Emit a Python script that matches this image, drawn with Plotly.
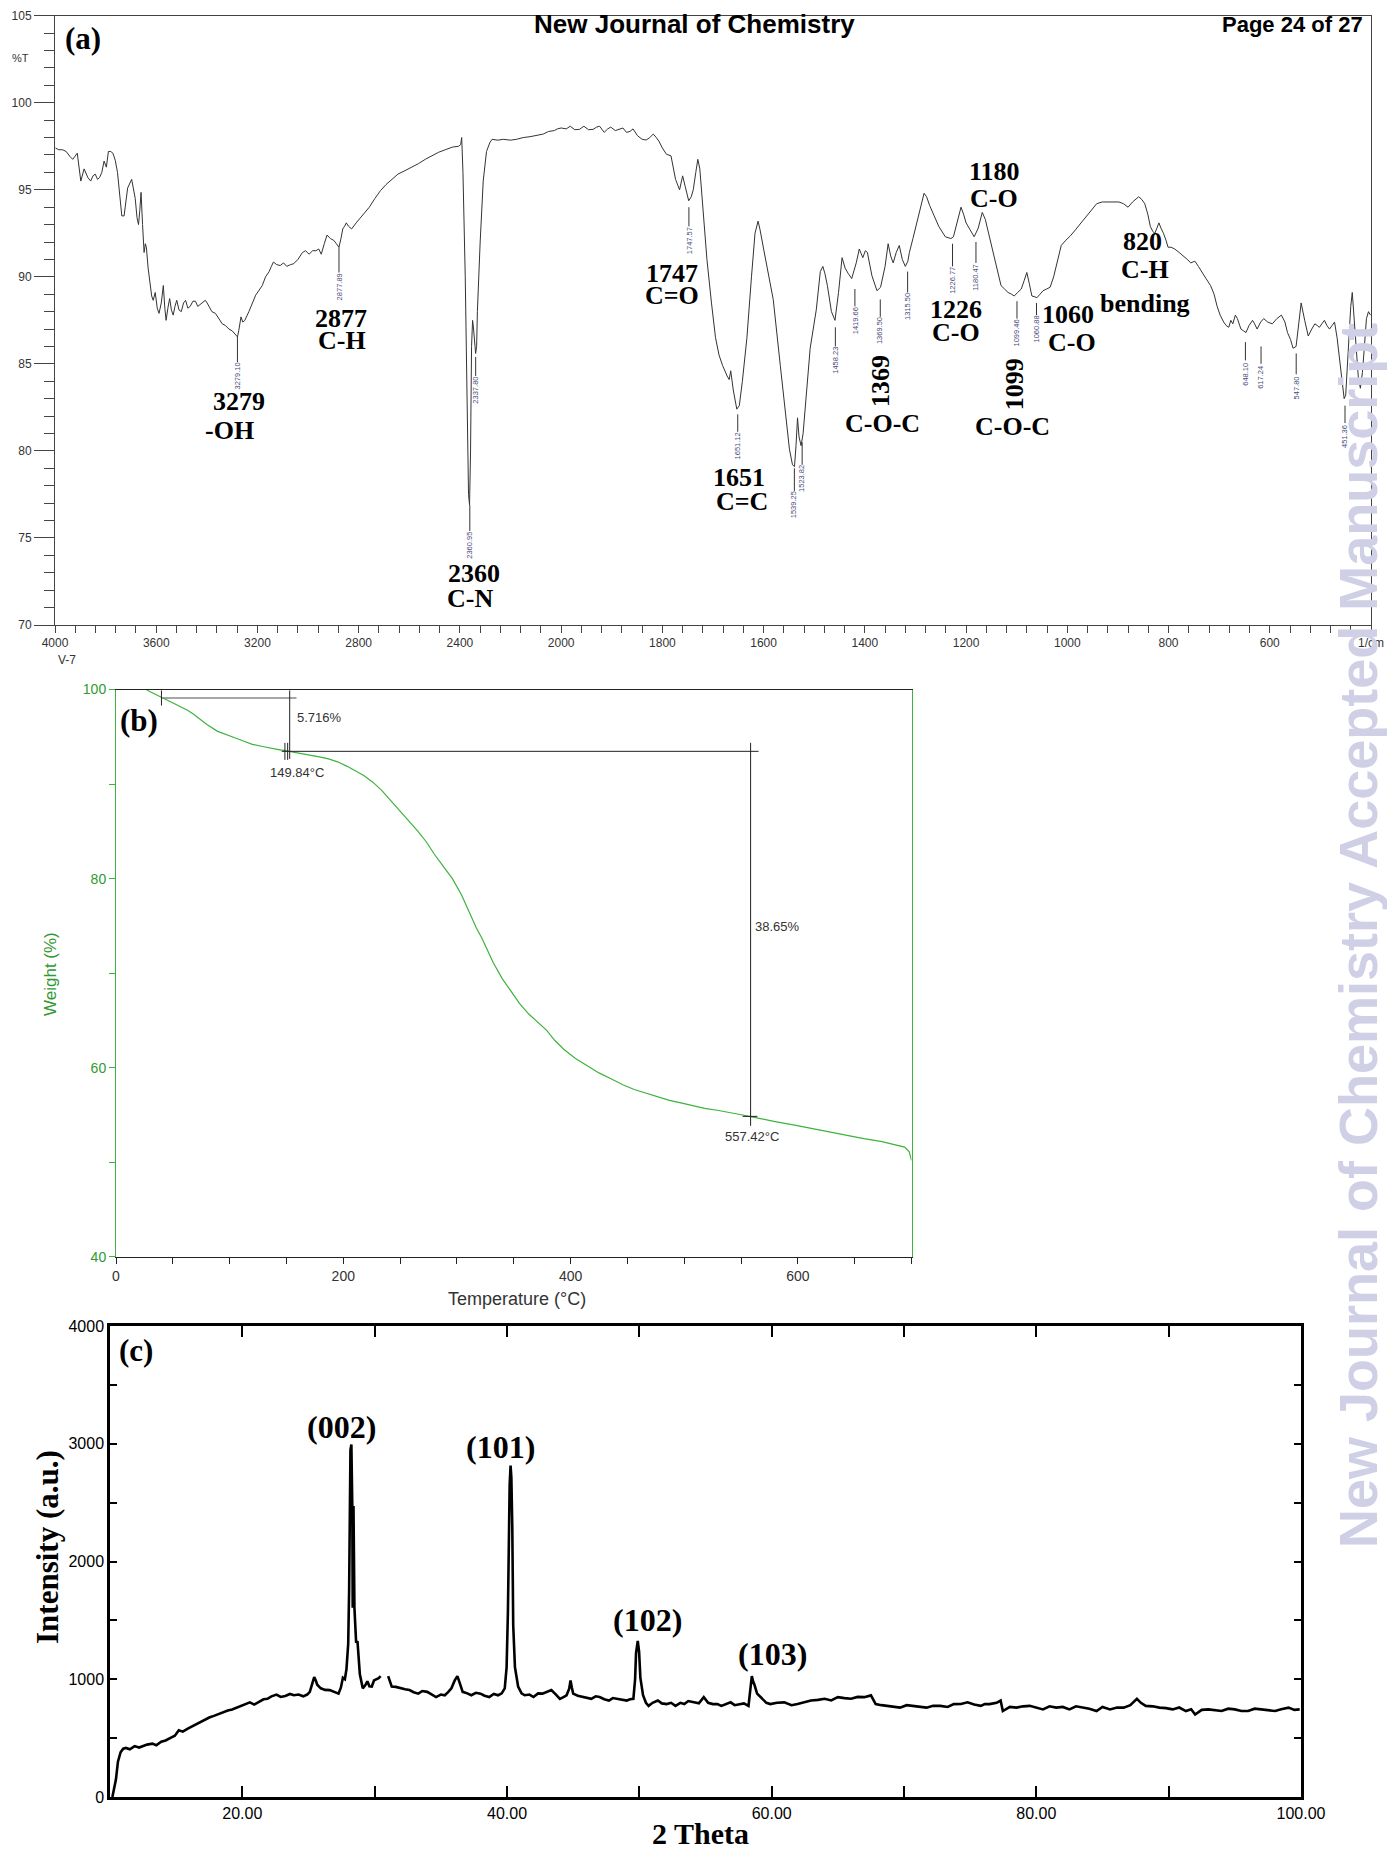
import numpy as np
import plotly.graph_objects as go

W, H = 1395, 1858
OFF = 8                      # default body margin of the html page
FW, FH = W - 2 * OFF, H - 2 * OFF

# ---------------- (a) FT-IR data ----------------
ir_wn = [3998, 3985, 3970, 3956, 3940, 3930, 3912, 3898, 3885, 3870, 3859, 3850, 3841, 3832, 3824, 3815,
         3806, 3797, 3789, 3780, 3771, 3762, 3753, 3744, 3736, 3727, 3720, 3713, 3697, 3690, 3683, 3676,
         3670, 3665, 3660, 3654, 3648, 3643, 3639, 3632, 3625, 3618, 3612, 3604, 3596, 3589, 3580, 3572,
         3566, 3561, 3554, 3547, 3540, 3533, 3526, 3519, 3510, 3501, 3492, 3484, 3475, 3466, 3455, 3445,
         3436, 3427, 3416, 3406, 3399, 3392, 3380, 3366, 3352, 3339, 3326, 3313, 3300, 3290, 3283, 3279,
         3274, 3265, 3258, 3250, 3234, 3220, 3207, 3195, 3181, 3168, 3154, 3145, 3137, 3124, 3110, 3097,
         3084, 3070, 3057, 3040, 3022, 3010, 2996, 2982, 2969, 2958, 2948, 2936, 2925, 2912, 2899, 2888,
         2878, 2870, 2863, 2856, 2849, 2840, 2828, 2810, 2793, 2775, 2758, 2736, 2714, 2692, 2670, 2645,
         2617, 2590, 2564, 2537, 2511, 2485, 2458, 2430, 2405, 2397, 2393, 2388, 2379, 2372, 2366, 2362,
         2358, 2354, 2350, 2346, 2343, 2338, 2334, 2331, 2320, 2308, 2295, 2282, 2273, 2250, 2229, 2200,
         2176, 2150, 2123, 2100, 2071, 2050, 2027, 2015, 2000, 1990, 1982, 1973, 1964, 1955, 1946, 1937,
         1930, 1924, 1915, 1908, 1902, 1893, 1885, 1878, 1871, 1864, 1858, 1849, 1840, 1832, 1825, 1818,
         1812, 1807, 1800, 1792, 1783, 1778, 1774, 1766, 1760, 1755, 1748, 1743, 1739, 1734, 1730, 1726,
         1720, 1712, 1703, 1695, 1688, 1681, 1672, 1668, 1665, 1660, 1653, 1648, 1642, 1633, 1624, 1617,
         1611, 1607, 1600, 1593, 1581, 1567, 1558, 1549, 1543, 1539, 1536, 1533, 1530, 1526, 1522, 1518,
         1508, 1496, 1488, 1483, 1479, 1474, 1466, 1459, 1452, 1445, 1439, 1433, 1426, 1417, 1411, 1404,
         1399, 1395, 1386, 1376, 1369, 1360, 1354, 1349, 1344, 1338, 1332, 1326, 1320, 1315, 1312, 1305,
         1299, 1291, 1283, 1278, 1272, 1263, 1254, 1241, 1230, 1225, 1220, 1215, 1210, 1205, 1200, 1192,
         1184, 1176, 1168, 1162, 1157, 1150, 1145, 1138, 1131, 1124, 1117, 1110, 1105, 1098, 1091, 1085,
         1080, 1075, 1070, 1064, 1060, 1054, 1048, 1041, 1034, 1027, 1021, 1012, 1003, 994, 984, 973,
         962, 951, 942, 931, 920, 909, 898, 889, 880, 871, 865, 859, 853, 847, 841, 836,
         831, 827, 823, 819, 815, 810, 805, 801, 795, 788, 779, 770, 763, 756, 748, 741,
         734, 726, 717, 710, 704, 698, 691, 686, 681, 677, 673, 668, 664, 660, 657, 652,
         647, 641, 634, 630, 625, 618, 612, 604, 595, 586, 577, 570, 565, 559, 554, 548,
         544, 538, 531, 524, 517, 511, 506, 502, 497, 492, 487, 482, 477, 472, 467, 462,
         457, 453, 450, 447, 443, 440, 437, 433, 429, 425, 421, 417, 413, 409, 405, 401]
ir_t = [97.4, 97.3, 97.3, 97.2, 96.9, 96.75, 97.1, 95.5, 96.2, 95.7, 95.5, 95.8, 95.9, 95.6, 95.7, 96.0,
        96.65, 96.3, 97.2, 97.2, 97.1, 96.7, 96.0, 94.8, 93.5, 93.5, 94.2, 95.1, 95.6, 95.0, 94.5, 93.4,
        93.0, 93.8, 94.85, 93.0, 91.4, 91.9, 91.7, 90.5, 89.6, 88.9, 88.65, 89.1, 88.2, 87.9, 88.5, 89.5,
        88.2, 87.5, 88.2, 88.75, 88.1, 87.8, 88.3, 88.65, 88.1, 88.0, 88.5, 88.65, 88.2, 88.3, 88.6, 88.6,
        88.3, 88.4, 88.5, 88.65, 88.5, 88.3, 88.0, 87.9, 87.6, 87.3, 87.2, 87.0, 86.9, 86.7, 86.6, 86.55,
        86.9, 87.7, 87.4, 87.5, 88.0, 88.5, 88.95, 89.2, 89.5, 90.0, 90.3, 90.6, 90.85, 90.7, 90.65, 90.8,
        90.6, 90.7, 90.75, 91.0, 91.4, 91.5, 91.3, 91.5, 91.5, 91.6, 91.3, 91.9, 92.4, 92.2, 92.1, 91.9,
        91.7, 92.2, 92.75, 92.9, 93.1, 92.9, 92.75, 93.1, 93.4, 93.7, 94.0, 94.5, 94.95, 95.3, 95.6, 95.9,
        96.1, 96.3, 96.5, 96.75, 96.95, 97.15, 97.3, 97.45, 97.5, 97.6, 98.0, 96.0, 90.0, 82.0, 77.5, 76.9,
        80.0, 86.0, 87.5, 87.0, 86.5, 85.6, 86.0, 88.0, 92.0, 95.5, 97.2, 97.7, 97.9, 97.85, 97.9, 97.85,
        97.9, 98.0, 98.05, 98.1, 98.2, 98.35, 98.4, 98.5, 98.55, 98.5, 98.65, 98.45, 98.47, 98.65, 98.45, 98.47,
        98.6, 98.65, 98.3, 98.5, 98.6, 98.4, 98.47, 98.55, 98.3, 98.35, 98.5, 98.1, 97.9, 97.86, 98.0, 98.2,
        98.0, 97.8, 97.4, 97.04, 96.95, 96.2, 95.6, 95.0, 95.8, 95.2, 94.37, 94.6, 95.0, 96.0, 96.75, 96.2,
        94.0, 91.0, 88.5, 86.5, 85.5, 84.9, 84.3, 84.1, 84.6, 83.5, 82.4, 82.6, 84.0, 86.5, 90.0, 92.5,
        93.2, 92.7, 91.6, 90.6, 88.7, 84.9, 82.4, 80.1, 79.2, 79.1, 80.3, 81.9, 80.8, 80.3, 81.0, 82.4,
        85.9, 88.1, 90.3, 90.6, 90.2, 89.5, 88.0, 87.5, 89.1, 91.1, 90.5, 90.2, 89.9, 90.8, 91.6, 91.1,
        91.5, 91.4, 90.06, 89.2, 89.4, 90.6, 91.9, 91.2, 90.8, 91.4, 91.8, 91.0, 90.6, 90.9, 91.4, 92.2,
        92.9, 93.9, 94.8, 94.6, 94.1, 93.5, 92.9, 92.3, 92.2, 92.3, 92.9, 93.5, 94.0, 93.6, 93.1, 92.7,
        92.3, 92.8, 93.7, 93.3, 92.7, 91.8, 91.2, 90.3, 89.5, 89.3, 89.1, 89.0, 88.9, 89.1, 89.3, 89.8,
        90.25, 89.6, 88.9, 88.85, 88.8, 89.0, 89.2, 89.3, 89.4, 90.0, 90.8, 91.8, 92.1, 92.35, 92.7, 93.1,
        93.5, 93.9, 94.2, 94.3, 94.3, 94.3, 94.3, 94.2, 94.0, 94.3, 94.45, 94.6, 94.45, 94.2, 93.6, 92.9,
        92.6, 92.5, 92.8, 93.1, 92.8, 92.5, 92.1, 91.7, 91.7, 91.6, 91.4, 91.2, 91.0, 90.8, 90.9, 90.6,
        90.25, 89.9, 89.5, 89.0, 88.3, 87.8, 87.4, 87.2, 87.1, 87.5, 87.3, 87.8, 87.6, 87.3, 87.0, 86.9,
        86.8, 87.2, 87.5, 87.3, 87.0, 87.4, 87.6, 87.4, 87.3, 87.6, 87.8, 87.4, 86.8, 86.4, 85.9, 86.0,
        87.0, 88.5, 87.5, 86.6, 87.0, 87.3, 87.2, 87.1, 87.3, 87.5, 87.2, 87.0, 87.2, 87.4, 86.5, 85.3,
        84.0, 83.0, 83.2, 84.7, 87.0, 88.3, 89.1, 87.6, 85.6, 84.2, 83.6, 84.5, 86.0, 87.6, 88.0, 87.8]

peak_wn = [3279.10, 2877.89, 2360.95, 2337.80, 1747.57, 1651.12, 1539.25, 1523.82, 1458.23, 1419.66,
           1369.50, 1315.50, 1226.77, 1180.47, 1099.46, 1060.88, 648.10, 617.24, 547.80, 451.36]
peak_line_top = [86.6, 91.7, 76.9, 85.4, 94.0, 82.1, 79.0, 80.5, 87.1, 89.3,
                 88.7, 90.3, 91.9, 92.0, 88.6, 88.5, 86.25, 86.0, 85.6, 82.6]
peak_line_bot = [85.1, 90.25, 75.4, 84.3, 92.9, 81.1, 77.7, 79.2, 86.0, 88.3,
                 87.7, 89.1, 90.6, 90.8, 87.6, 87.8, 85.2, 85.0, 84.4, 81.6]
ir_tick_labels = ["4000", "3600", "3200", "2800", "2400", "2000", "1800", "1600", "1400",
                  "1200", "1000", "800", "600", "1/cm"]

# ---------------- (b) TGA data ----------------
tga_temp = [27, 33, 40, 47, 53, 58, 63, 68, 73, 80, 89, 97, 104.5, 112, 120, 128, 135.5, 143, 150, 160,
            172, 180, 187, 195, 203, 210, 218, 226, 234, 241, 249, 257, 265, 273, 280, 288, 296, 304, 311,
            317, 322, 327, 332, 340, 348, 355, 363, 371, 379, 386, 394, 404, 415, 425, 436, 446, 456, 467,
            477, 487, 498, 508, 518, 529, 539, 549, 557.4, 569, 580, 596, 611, 627, 642, 658, 673, 684,
            694, 698, 700]
tga_wt = [99.95, 99.6, 99.2, 98.8, 98.44, 98.1, 97.8, 97.4, 96.9, 96.3, 95.6, 95.2, 94.9, 94.55, 94.2,
          94.0, 93.8, 93.65, 93.5, 93.3, 93.06, 92.85, 92.66, 92.35, 91.9, 91.45, 90.9, 90.2, 89.3, 88.35,
          87.3, 86.2, 85.1, 83.9, 82.6, 81.3, 80.0, 78.3, 76.4, 74.8, 73.7, 72.4, 71.1, 69.4, 67.96, 66.8,
          65.7, 64.8, 63.95, 62.9, 61.95, 61.0, 60.2, 59.45, 58.8, 58.2, 57.7, 57.3, 56.9, 56.55, 56.25,
          55.95, 55.7, 55.5, 55.3, 55.05, 54.85, 54.55, 54.3, 53.95, 53.6, 53.2, 52.8, 52.5, 52.2, 51.9,
          51.6, 51.1, 50.2]
step1_t0, step1_t1, step2_t1 = 40.0, 149.84, 557.42
step1_w0, step1_w1, step2_w1 = 99.1, 93.46, 54.85
step1_loss, step2_loss = "5.716%", "38.65%"

# ---------------- (c) XRD data ----------------
xrd_2theta = [10.18, 10.3, 10.45, 10.6, 10.8, 11.0, 11.2, 11.5, 11.86, 12.2, 12.5, 12.8, 13.2, 13.5, 13.87,
              14.2, 14.54, 14.9, 15.2, 15.5, 15.88, 16.2, 16.55, 16.9, 17.2, 17.5, 17.9, 18.2, 18.56, 18.9,
              19.23, 19.6, 19.9, 20.2, 20.57, 20.9, 21.24, 21.6, 21.9, 22.2, 22.58, 22.9, 23.25, 23.6, 23.9,
              24.25, 24.6, 24.9, 25.1, 25.3, 25.43, 25.55, 25.66, 25.93, 26.25, 26.6, 26.95, 27.27, 27.45,
              27.6, 27.75, 27.87, 28.0, 28.07, 28.17, 28.24, 28.31, 28.34, 28.4, 28.47, 28.6, 28.7, 28.88,
              29.1, 29.3, 29.45, 29.6, 29.78, 29.95, 30.1, 30.3, 30.45, None, 31.02, 31.15, 31.29, 31.6,
              31.96, 32.3, 32.63, 32.95, 33.3, 33.6, 33.97, 34.3, 34.64, 35.0, 35.3, 35.55, 35.8, 36.05,
              36.25, 36.45, 36.65, 37.0, 37.3, 37.65, 38.0, 38.3, 38.66, 39.0, 39.33, 39.6, 39.83, 39.97,
              40.07, 40.2, 40.27, 40.33, 40.4, 40.47, 40.6, 40.84, 41.1, 41.34, 41.7, 42.0, 42.35, 42.68,
              43.0, 43.35, 43.7, 44.0, 44.3, 44.5, 44.7, 44.8, 44.9, 45.0, 45.35, 45.7, 46.0, 46.37, 46.7,
              47.0, 47.35, 47.7, 48.0, 48.37, 48.7, 49.05, 49.3, 49.55, 49.68, 49.75, 49.88, 49.98, 50.08,
              50.28, 50.5, 50.7, 51.0, 51.4, 51.7, 52.06, 52.4, 52.73, 53.1, 53.4, 53.7, 54.07, 54.5, 54.87,
              55.2, 55.55, 55.9, 56.2, 56.55, 56.9, 57.2, 57.57, 57.9, 58.25, 58.4, 58.5, 58.6, 58.7, 58.9,
              59.26, 59.6, 59.9, 60.4, 60.95, 61.5, 61.96, 62.5, 62.97, 63.5, 64.0, 64.5, 65.0, 65.5, 66.0,
              66.5, 67.0, 67.5, 67.86, 68.3, 68.7, 69.2, 69.7, 70.2, 70.7, 71.2, 71.7, 72.2, 72.75, 73.3,
              73.76, 74.3, 74.8, 75.3, 75.8, 76.1, 76.46, 77.0, 77.3, 77.47, 78.0, 78.5, 79.0, 79.5, 80.0,
              80.5, 81.0, 81.5, 82.0, 82.5, 83.0, 83.5, 84.0, 84.55, 85.0, 85.57, 86.1, 86.6, 87.1, 87.6,
              87.9, 88.27, 88.8, 89.3, 89.8, 90.3, 90.8, 91.3, 91.7, 92.0, 92.5, 93.0, 93.5, 94.0, 94.5,
              95.0, 95.5, 96.0, 96.5, 97.0, 97.5, 98.05, 98.5, 99.06, 99.5, 99.9]
xrd_int = [0, 80, 150, 300, 380, 410, 417, 405, 432, 420, 432, 445, 453, 440, 470,
           480, 500, 520, 566, 555, 581, 600, 625, 640, 661, 675, 691, 705, 721, 735,
           744, 760, 774, 790, 804, 785, 810, 830, 834, 855, 870, 850, 858, 875, 864,
           870, 855, 870, 893, 980, 1018, 990, 953, 923, 910, 908, 890, 878, 930,
           1013, 1000, 1087, 1300, 1757, 2948, 2993, 2472, 1608, 2472, 1608, 1310, 1325, 1042,
           923, 950, 983, 940, 938, 990, 998, 1010, 1027, None, 1027, 980, 938, 935,
           923, 915, 908, 890, 878, 900, 893, 870, 849, 870, 864, 890, 923, 990,
           1027, 960, 893, 880, 864, 885, 878, 860, 849, 875, 864, 880, 923, 1100,
           1578, 2650, 2814, 2710, 2293, 1459, 1102, 938, 880, 864, 870, 849, 880, 878,
           895, 908, 870, 834, 850, 864, 920, 989, 930, 878, 860, 849, 845, 834, 855,
           849, 830, 819, 840, 834, 825, 819, 830, 834, 1000, 1221, 1325, 1236, 1012,
           864, 800, 774, 800, 819, 795, 789, 800, 774, 800, 789, 815, 804, 795, 848,
           800, 789, 790, 774, 790, 804, 780, 789, 795, 774, 923, 1027, 980, 953, 878,
           834, 800, 789, 800, 804, 780, 789, 805, 819, 825, 834, 820, 848, 840, 834,
           850, 848, 863, 789, 780, 774, 770, 759, 780, 774, 770, 759, 775, 774, 765,
           789, 790, 804, 785, 774, 790, 789, 800, 819, 730, 765, 759, 770, 774, 760,
           744, 770, 759, 765, 744, 770, 759, 750, 730, 765, 744, 760, 759, 780, 834,
           800, 774, 770, 759, 755, 744, 760, 730, 745, 700, 740, 744, 735, 730, 750,
           744, 730, 730, 750, 744, 735, 730, 745, 759, 740, 744]
xrd_hkl = ["(002)", "(101)", "(102)", "(103)"]
xrd_hkl_pos = [28.2, 40.3, 49.9, 58.5]


# ---------------- helpers ----------------
def wn_to_u(w):
    w = np.asarray(w, dtype=float)
    return np.where(w >= 2000, (4000 - w) / 400.0, 5 + (2000 - w) / 200.0)


def px(x):
    return (x - OFF) / FW


def py(y):
    return 1 - (y - OFF) / FH


SERIF = "Liberation Serif, Times New Roman, serif"
SANS = "Liberation Sans, Arial, sans-serif"
GREEN = "#2f9a2f"
GREEN_LINE = "#3db33d"
DARK = "#333333"

fig = go.Figure()

# ---- (a) IR spectrum
fig.add_trace(go.Scatter(x=wn_to_u(ir_wn), y=ir_t, mode="lines",
                         line=dict(color=DARK, width=1), xaxis="x", yaxis="y",
                         hoverinfo="skip", showlegend=False))
lx, ly = [], []
for w, t0, t1 in zip(peak_wn, peak_line_top, peak_line_bot):
    u = float(wn_to_u(w))
    lx += [u, u, None]
    ly += [t0, t1, None]
fig.add_trace(go.Scatter(x=lx, y=ly, mode="lines", line=dict(color=DARK, width=1),
                         xaxis="x", yaxis="y", hoverinfo="skip", showlegend=False))

# ---- (b) TGA
fig.add_trace(go.Scatter(x=tga_temp, y=tga_wt, mode="lines", line=dict(color=GREEN_LINE, width=1.2),
                         xaxis="x2", yaxis="y2", hoverinfo="skip", showlegend=False))

# ---- (c) XRD
fig.add_trace(go.Scatter(x=xrd_2theta, y=xrd_int, mode="lines", line=dict(color="black", width=2.6),
                         xaxis="x3", yaxis="y3", hoverinfo="skip", showlegend=False,
                         connectgaps=False))

ann = []


def txt(text, x, y, xref="paper", yref="paper", size=12, color="black", family=SANS,
        weight="normal", angle=0, xanchor="center", yanchor="middle"):
    ann.append(dict(text=text, x=x, y=y, xref=xref, yref=yref, showarrow=False,
                    font=dict(size=size, color=color, family=family, weight=weight),
                    textangle=angle, xanchor=xanchor, yanchor=yanchor))


# watermark (first so other texts are drawn over it)
txt("New Journal of Chemistry Accepted Manuscript", px(1358), py(936), size=54,
    color="#cfcfe6", family=SANS, weight="bold", angle=-90)

# header
txt("New Journal of Chemistry", px(694), py(24), size=26, family=SANS, weight="bold")
txt("Page 24 of 27", px(1292), py(24), size=22, family=SANS, weight="bold")

# (a) annotations
txt("(a)", px(83), py(38), size=31, family=SERIF, weight="bold")
txt("%T", px(20), py(58), size=11, color=DARK)
txt("V-7", px(67), py(660), size=12, color=DARK)
for w, t1 in zip(peak_wn, peak_line_bot):
    txt(f"{w:.2f}", float(wn_to_u(w)), t1 - 0.8, "x", "y", size=7.5, color="#4a4a7a", angle=-90)

ir_big = [("3279", 1.818, 82.82, 0), ("-OH", 1.726, 81.19, 0), ("2877", 2.823, 87.6, 0),
          ("C-H", 2.835, 86.33, 0), ("2360", 4.142, 72.98, 0), ("C-N", 4.098, 71.55, 0),
          ("1747", 6.095, 90.2, 0), ("C=O", 6.095, 88.95, 0), ("1651", 6.752, 78.48, 0),
          ("C=C", 6.785, 77.12, 0), ("1369", 8.154, 84.04, -90), ("C-O-C", 8.176, 81.6, 0),
          ("1226", 8.902, 88.1, 0), ("C-O", 8.902, 86.78, 0), ("1180", 9.276, 96.05, 0),
          ("C-O", 9.276, 94.5, 0), ("1099", 9.487, 83.85, -90), ("C-O-C", 9.462, 81.39, 0),
          ("1060", 10.01, 87.86, 0), ("C-O", 10.05, 86.2, 0), ("820", 10.74, 92.05, 0),
          ("C-H", 10.77, 90.42, 0), ("bending", 10.77, 88.45, 0)]
for t, ux, ty, ang in ir_big:
    txt(t, ux, ty, "x", "y", size=26, family=SERIF, weight="bold", angle=ang)

# (b) annotations
txt("(b)", px(139), py(721), size=31, family=SERIF, weight="bold")
txt(step1_loss, step1_t1 + 8, 97.0, "x2", "y2", size=13, color=DARK, xanchor="left")
txt(f"{step1_t1:.2f}°C", step1_t1 + 9, 91.2, "x2", "y2", size=13, color=DARK)
txt(step2_loss, step2_t1 + 3, 74.95, "x2", "y2", size=13, color=DARK, xanchor="left")
txt(f"{step2_t1:.2f}°C", step2_t1 + 2, 52.7, "x2", "y2", size=13, color=DARK)
txt("Weight (%)", px(50), py(974), size=17, color=GREEN, angle=-90)
txt("Temperature (°C)", px(517), py(1299), size=18, color=DARK)

# (c) annotations
txt("(c)", 11.96, 3790, "x3", "y3", size=31, family=SERIF, weight="bold")
hkl_y = [3144, 2974, 1504, 1211]
hkl_dx = [-0.7, -0.8, 0.75, 1.55]
for lab, xp, yy, dx in zip(xrd_hkl, xrd_hkl_pos, hkl_y, hkl_dx):
    txt(lab, xp + dx, yy, "x3", "y3", size=32, family=SERIF, weight="bold")
txt("Intensity (a.u.)", px(47), py(1547), size=31, family=SERIF, weight="bold", angle=-90)
txt("2 Theta", px(700), py(1833), size=30, family=SERIF, weight="bold")

# TGA step markers (shapes)
shapes = []


def seg(x0, y0, x1, y1, color="#222", width=1):
    shapes.append(dict(type="line", x0=x0, y0=y0, x1=x1, y1=y1, xref="x2", yref="y2",
                       line=dict(color=color, width=width)))


seg(step1_t0, step1_w0, step1_t1 + 9, step1_w0, color="#888", width=1.6)
seg(step1_t0, step1_w0 + 0.8, step1_t0, step1_w0 - 0.8)
seg(step1_t1 + 3, step1_w0 + 0.8, step1_t1 + 3, step1_w1 - 0.8)
seg(step1_t1 - 1.2, step1_w1 + 0.9, step1_t1 - 1.2, step1_w1 - 0.9)
seg(step1_t1 + 1.2, step1_w1 + 0.9, step1_t1 + 1.2, step1_w1 - 0.9)
seg(step1_t1 - 4, step1_w1, step2_t1 + 8, step1_w1)
seg(step2_t1 + 1, step1_w1 + 0.9, step2_t1 + 1, step2_w1 - 1.0)
seg(step2_t1 - 6, step2_w1, step2_t1 + 7, step2_w1)

axis_a = dict(showgrid=False, zeroline=False, showline=True, linecolor="#444", linewidth=1,
              mirror=True, ticks="outside", tickcolor="#444",
              tickfont=dict(size=12, color=DARK, family=SANS))

fig.update_layout(
    width=FW, height=FH, margin=dict(l=0, r=0, t=0, b=0),
    paper_bgcolor="white", plot_bgcolor="white", template="none",
    showlegend=False, annotations=ann, shapes=shapes,
    xaxis=dict(axis_a, domain=[px(55), px(1371)], anchor="y", range=[0, 13],
               tickmode="array", tickvals=list(range(14)), ticktext=ir_tick_labels, ticklen=7,
               minor=dict(tickmode="linear", tick0=0, dtick=0.2, ticks="outside", ticklen=7,
                          tickcolor="#444")),
    yaxis=dict(axis_a, domain=[py(625), py(15.7)], anchor="x", range=[70, 105],
               tickmode="linear", tick0=70, dtick=5, ticklen=20,
               minor=dict(tickmode="linear", tick0=70, dtick=1, ticks="outside", ticklen=10,
                          tickcolor="#444")),
    xaxis2=dict(showgrid=False, zeroline=False, showline=True, linecolor="#222", linewidth=1,
                mirror=True, ticks="outside", ticklen=6, tickcolor="#222",
                domain=[px(116), px(911.5)], anchor="y2", range=[0, 700],
                tickmode="linear", tick0=0, dtick=200,
                tickfont=dict(size=14, color=DARK, family=SANS),
                minor=dict(tickmode="linear", tick0=0, dtick=50, ticks="outside", ticklen=6,
                           tickcolor="#222")),
    yaxis2=dict(showgrid=False, zeroline=False, showline=True, linecolor=GREEN_LINE, linewidth=1,
                mirror=True, ticks="outside", ticklen=6, tickcolor=GREEN_LINE,
                domain=[py(1256.8), py(689.5)], anchor="x2", range=[40, 100],
                tickmode="linear", tick0=40, dtick=20,
                tickfont=dict(size=14, color=GREEN, family=SANS),
                minor=dict(tickmode="linear", tick0=40, dtick=10, ticks="outside", ticklen=6,
                           tickcolor=GREEN_LINE)),
    xaxis3=dict(showgrid=False, zeroline=False, showline=True, linecolor="black", linewidth=2.5,
                mirror="allticks", ticks="inside", ticklen=11, tickwidth=2, tickcolor="black",
                domain=[px(110), px(1301)], anchor="y3", range=[10, 100],
                tickmode="array", tickvals=[20, 40, 60, 80, 100],
                ticktext=["20.00", "40.00", "60.00", "80.00", "100.00"],
                tickfont=dict(size=16, color="black", family=SANS),
                minor=dict(tickmode="array", tickvals=[30, 50, 70, 90], ticks="inside",
                           ticklen=11, tickwidth=2, tickcolor="black")),
    yaxis3=dict(showgrid=False, zeroline=False, showline=True, linecolor="black", linewidth=2.5,
                mirror="allticks", ticks="inside", ticklen=7, tickwidth=2, tickcolor="black",
                domain=[py(1797), py(1326)], anchor="x3", range=[0, 4000],
                tickmode="linear", tick0=0, dtick=1000,
                tickfont=dict(size=16, color="black", family=SANS),
                minor=dict(tickmode="linear", tick0=0, dtick=500, ticks="inside", ticklen=7,
                           tickwidth=2, tickcolor="black")),
)

fig.write_html("out.html")
